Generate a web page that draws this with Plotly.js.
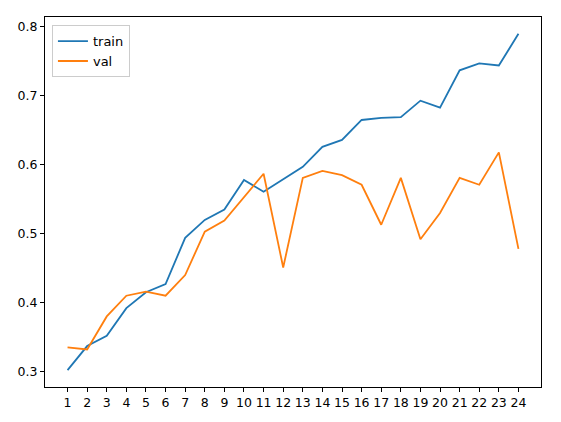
<!DOCTYPE html>
<html>
<head>
<meta charset="utf-8">
<script src="https://cdn.plot.ly/plotly-3.0.1.min.js"></script>
<style>html,body{margin:0;padding:0;background:#fff;}#chart{width:561px;height:422px;}</style>
</head>
<body>
<div id="chart"></div>
<script>
const epochs = [1,2,3,4,5,6,7,8,9,10,11,12,13,14,15,16,17,18,19,20,21,22,23,24];
const tickLabels = epochs.map(String);
const trainAcc = [0.302,0.337,0.352,0.392,0.415,0.427,0.494,0.520,0.535,0.578,0.561,0.579,0.597,0.626,0.636,0.665,0.668,0.669,0.693,0.683,0.737,0.747,0.744,0.790];
const valAcc = [0.335,0.332,0.380,0.410,0.416,0.410,0.440,0.503,0.519,0.553,0.587,0.451,0.581,0.591,0.585,0.571,0.513,0.581,0.492,0.530,0.581,0.571,0.618,0.478];

const traces = [
  {x: epochs, y: trainAcc, name: 'train', type: 'scatter', mode: 'lines', line: {color: '#1f77b4', width: 1.8}},
  {x: epochs, y: valAcc, name: 'val', type: 'scatter', mode: 'lines', line: {color: '#ff7f0e', width: 1.8}}
];
const layout = {
  width: 561, height: 422,
  margin: {l: 45, r: 20, t: 17, b: 35},
  paper_bgcolor: '#fff', plot_bgcolor: '#fff',
  font: {family: 'DejaVu Sans', size: 12.5, color: '#000'},
  showlegend: true,
  legend: {x: 0.014, y: 0.978, xanchor: 'left', yanchor: 'top', bgcolor: 'rgba(255,255,255,0.8)', bordercolor: '#cccccc', borderwidth: 1, font: {size: 13}},
  xaxis: {range: [-0.15, 25.15], tickmode: 'array', tickvals: epochs, ticktext: tickLabels, showgrid: false, zeroline: false,
    showline: true, linecolor: '#000', linewidth: 1, mirror: true, ticks: 'outside', ticklen: 4, tickcolor: '#000'},
  yaxis: {range: [0.2776, 0.8144], tickmode: 'array', tickvals: [0.3,0.4,0.5,0.6,0.7,0.8], ticktext: ['0.3','0.4','0.5','0.6','0.7','0.8'], showgrid: false, zeroline: false,
    showline: true, linecolor: '#000', linewidth: 1, mirror: true, ticks: 'outside', ticklen: 4, tickcolor: '#000'}
};
Plotly.newPlot('chart', traces, layout, {displayModeBar: false, staticPlot: true});
</script>
</body>
</html>
